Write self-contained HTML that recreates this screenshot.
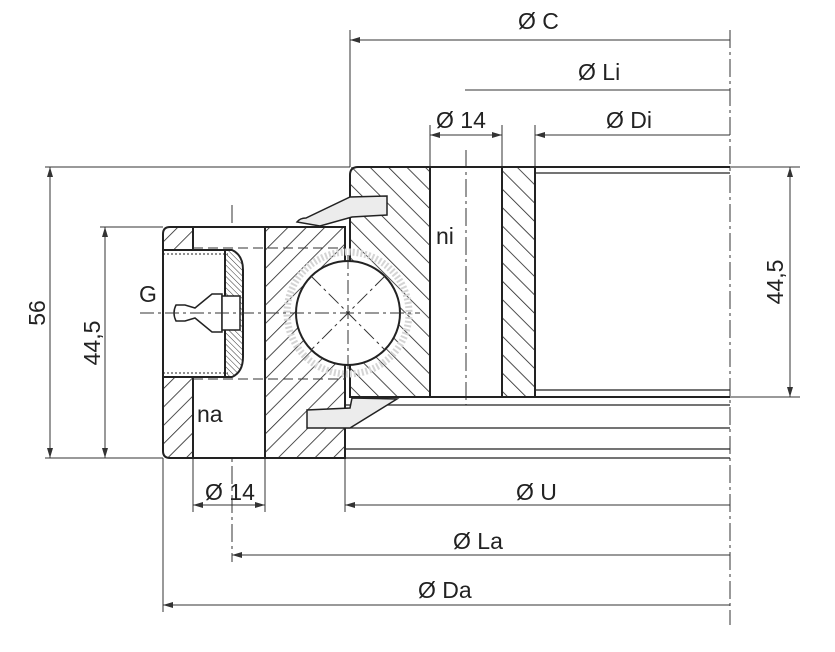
<!DOCTYPE html>
<html><head><meta charset="utf-8"><style>
html,body{margin:0;padding:0;background:#fff;}
svg{display:block}
text{font-family:"Liberation Sans",sans-serif;font-size:23px;fill:#222}
</style></head><body>
<svg width="835" height="652" viewBox="0 0 835 652" xmlns="http://www.w3.org/2000/svg">
<defs>
<pattern id="hf" width="13" height="13" patternUnits="userSpaceOnUse" patternTransform="rotate(45)">
<line x1="0" y1="0" x2="0" y2="13" stroke="#222" stroke-width="1.6"/></pattern>
<pattern id="hb" width="13" height="13" patternUnits="userSpaceOnUse" patternTransform="rotate(-45)">
<line x1="0" y1="0" x2="0" y2="13" stroke="#222" stroke-width="1.6"/></pattern>
<pattern id="hx" width="4" height="4" patternUnits="userSpaceOnUse" patternTransform="rotate(-45)">
<line x1="0" y1="0" x2="0" y2="4" stroke="#333" stroke-width="1"/></pattern>
<marker id="ar" viewBox="0 0 10 6" refX="10" refY="3" markerWidth="10" markerHeight="6" orient="auto-start-reverse">
<path d="M0,0 L10,3 L0,6 z" fill="#333"/></marker>
</defs>
<g stroke="#333" fill="none" stroke-width="1">
<line x1="350" y1="30" x2="350" y2="167"/>
<line x1="430" y1="125" x2="430" y2="167"/>
<line x1="502" y1="125" x2="502" y2="167"/>
<line x1="535" y1="125" x2="535" y2="167"/>
<line x1="730" y1="30" x2="730" y2="625" stroke-dasharray="18,4,3,4"/>
<line x1="45" y1="167" x2="350" y2="167"/>
<line x1="45" y1="458" x2="163" y2="458"/>
<line x1="100" y1="227" x2="163" y2="227"/>
<line x1="730" y1="167" x2="800" y2="167"/>
<line x1="730" y1="397" x2="800" y2="397"/>
<line x1="163" y1="458" x2="163" y2="612"/>
<line x1="193" y1="458" x2="193" y2="512"/>
<line x1="265" y1="458" x2="265" y2="512"/>
<line x1="345" y1="458" x2="345" y2="512"/>
<line x1="232" y1="205" x2="232" y2="562" stroke-dasharray="18,4,3,4"/>
<line x1="466" y1="150" x2="466" y2="405" stroke-dasharray="18,4,3,4"/>
<line x1="350" y1="40" x2="730" y2="40" marker-start="url(#ar)"/>
<line x1="465" y1="90" x2="730" y2="90"/>
<line x1="430" y1="135" x2="502" y2="135" marker-start="url(#ar)" marker-end="url(#ar)"/>
<line x1="535" y1="135" x2="730" y2="135" marker-start="url(#ar)"/>
<line x1="50" y1="167" x2="50" y2="458" marker-start="url(#ar)" marker-end="url(#ar)"/>
<line x1="105" y1="227" x2="105" y2="458" marker-start="url(#ar)" marker-end="url(#ar)"/>
<line x1="790" y1="167" x2="790" y2="397" marker-start="url(#ar)" marker-end="url(#ar)"/>
<line x1="193" y1="505" x2="265" y2="505" marker-start="url(#ar)" marker-end="url(#ar)"/>
<line x1="345" y1="505" x2="730" y2="505" marker-start="url(#ar)"/>
<line x1="232" y1="555" x2="730" y2="555" marker-start="url(#ar)"/>
<line x1="163" y1="605" x2="730" y2="605" marker-start="url(#ar)"/>
</g>
<g stroke="#222" stroke-width="2" fill="none">
<path d="M358,167 L730,167" />
<path d="M350,397 L730,397" />
<rect x="350" y="167" width="80" height="230" fill="url(#hb)" stroke="none"/>
<path d="M358,167 Q350,167 350,175 L350,397 L430,397 L430,167" />
<rect x="502" y="167" width="33" height="230" fill="url(#hb)"/>
<line x1="535" y1="173" x2="730" y2="173" stroke-width="1.3"/>
<line x1="535" y1="390" x2="730" y2="390" stroke-width="1.3"/>
<line x1="345" y1="405" x2="730" y2="405" stroke-width="1.3"/>
<line x1="345" y1="428" x2="730" y2="428" stroke-width="1.3"/>
<line x1="345" y1="449" x2="730" y2="449" stroke-width="1.3"/>
<line x1="345" y1="458" x2="730" y2="458" stroke-width="1.3"/>
<rect x="265" y="227" width="80" height="231" fill="url(#hf)"/>
<path d="M170,227 L265,227 L265,458 L170,458 Q163,458 163,451 L163,234 Q163,227 170,227 Z" fill="#fff"/>
<rect x="163" y="227" width="30" height="23" fill="url(#hf)" stroke="none"/>
<rect x="163" y="377" width="30" height="81" fill="url(#hf)" stroke="none"/>
<line x1="193" y1="227" x2="193" y2="250"/>
<line x1="193" y1="377" x2="193" y2="458"/>
<rect x="163" y="250" width="62" height="127" fill="#fff"/>
<path d="M225,250 L232,250 Q243,255 243,270 L243,357 Q243,372 232,377 L225,377 Z" fill="url(#hx)"/>
<line x1="163" y1="254" x2="228" y2="254" stroke-width="1" stroke-dasharray="2,2"/>
<line x1="163" y1="373" x2="228" y2="373" stroke-width="1" stroke-dasharray="2,2"/>
<path d="M176,305 Q172,313 176,321 L185,321 L195,318 L212,332 L222,332 L222,294 L212,294 L195,308 L185,305 Z" fill="#fff" stroke-width="1.5"/>
<rect x="222" y="296" width="18" height="34" fill="#fff" stroke-width="1.5"/>
<circle cx="348" cy="313" r="61" stroke="#d4d4d4" stroke-width="7" stroke-dasharray="2,2"/>
<circle cx="348" cy="313" r="52" fill="#fff"/>
<path d="M297,222 Q300,218 306,218 L350,197 L387,196 L387,215 L352,217 L320,226 Z" fill="#ececec" stroke-width="1.5"/>
<path d="M307,410 L307,428 L350,428 L397,399 L352,398 L350,408 Z" fill="#ececec" stroke-width="1.5"/>
</g>
<g stroke="#333" stroke-width="1" stroke-dasharray="14,4,3,4" fill="none">
<line x1="140" y1="313" x2="420" y2="313"/>
<line x1="348" y1="255" x2="348" y2="371"/>
<line x1="311" y1="276" x2="385" y2="350"/>
<line x1="385" y1="276" x2="311" y2="350"/>
</g>
<g stroke="#333" stroke-width="1" stroke-dasharray="10,5" fill="none">
<line x1="193" y1="248" x2="345" y2="248"/>
<line x1="193" y1="379" x2="345" y2="379"/>
</g>
<text x="518" y="29">Ø C</text>
<text x="578" y="80">Ø Li</text>
<text x="436" y="128">Ø 14</text>
<text x="606" y="128">Ø Di</text>
<text x="436" y="244">ni</text>
<text x="139" y="302">G</text>
<text x="197" y="422">na</text>
<text x="205" y="500">Ø 14</text>
<text x="516" y="500">Ø U</text>
<text x="453" y="549">Ø La</text>
<text x="418" y="598">Ø Da</text>
<text transform="translate(45,313) rotate(-90)" text-anchor="middle">56</text>
<text transform="translate(100,343) rotate(-90)" text-anchor="middle">44,5</text>
<text transform="translate(783,282) rotate(-90)" text-anchor="middle">44,5</text>
</svg>
</body></html>
